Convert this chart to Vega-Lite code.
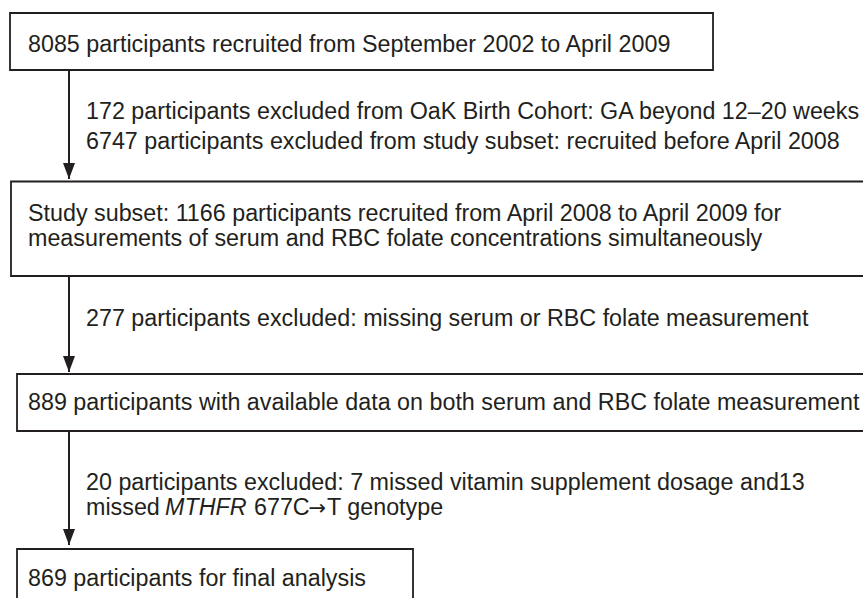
{
  "$schema": "https://vega.github.io/schema/vega-lite/v6.json",
  "width": 863,
  "height": 598,
  "padding": 0,
  "autosize": {"type": "none"},
  "background": "white",
  "config": {"view": {"stroke": null}},
  "datasets": {
    "boxes": [
      {"x1": 10, "x2": 713, "y1": 13, "y2": 70},
      {"x1": 11, "x2": 880, "y1": 181.5, "y2": 276},
      {"x1": 17, "x2": 880, "y1": 374, "y2": 431},
      {"x1": 17, "x2": 413, "y1": 549, "y2": 610}
    ],
    "arrows": [
      {"x": 69, "y1": 70, "y2": 179},
      {"x": 69, "y1": 276, "y2": 372},
      {"x": 69, "y1": 431, "y2": 545}
    ],
    "texts": [
      {"x": 28, "y": 52, "text": "8085 participants recruited from September 2002 to April 2009"},
      {"x": 86, "y": 119, "text": "172 participants excluded from OaK Birth Cohort: GA beyond 12–20 weeks"},
      {"x": 86, "y": 148.5, "text": "6747 participants excluded from study subset: recruited before April 2008"},
      {"x": 28, "y": 221, "text": "Study subset: 1166 participants recruited from April 2008 to April 2009 for"},
      {"x": 28, "y": 246, "text": "measurements of serum and RBC folate concentrations simultaneously"},
      {"x": 86, "y": 326, "text": "277 participants excluded: missing serum or RBC folate measurement"},
      {"x": 28, "y": 410, "text": "889 participants with available data on both serum and RBC folate measurement"},
      {"x": 86, "y": 490, "text": "20 participants excluded: 7 missed vitamin supplement dosage and13"},
      {"x": 86, "y": 515, "text": "missed"},
      {"x": 254, "y": 515, "text": "677C"},
      {"x": 327, "y": 515, "text": "T genotype"},
      {"x": 28, "y": 586, "text": "869 participants for final analysis"}
    ],
    "italic": [
      {"x": 165, "y": 515, "text": "MTHFR"}
    ],
    "symbol": [
      {"x": 308.5, "y": 515, "text": "→"}
    ]
  },
  "layer": [
    {
      "data": {"name": "boxes"},
      "mark": {"type": "rect", "fill": "white", "stroke": "#231f20", "strokeWidth": 1.8, "clip": true},
      "encoding": {
        "x": {"field": "x1", "type": "quantitative", "scale": {"domain": [0, 863], "nice": false, "zero": false}, "axis": null},
        "x2": {"field": "x2"},
        "y": {"field": "y1", "type": "quantitative", "scale": {"domain": [0, 598], "nice": false, "zero": false, "reverse": true}, "axis": null},
        "y2": {"field": "y2"}
      }
    },
    {
      "data": {"name": "arrows"},
      "mark": {"type": "rule", "stroke": "#231f20", "strokeWidth": 2},
      "encoding": {
        "x": {"field": "x", "type": "quantitative"},
        "y": {"field": "y1", "type": "quantitative"},
        "y2": {"field": "y2"}
      }
    },
    {
      "data": {"name": "arrows"},
      "mark": {"type": "point", "shape": "M-0.75,-2L0.75,-2L0,0Z", "size": 256, "filled": true, "fill": "#231f20", "opacity": 1, "strokeWidth": 0},
      "encoding": {
        "x": {"field": "x", "type": "quantitative"},
        "y": {"field": "y2", "type": "quantitative"}
      }
    },
    {
      "data": {"name": "texts"},
      "mark": {"type": "text", "align": "left", "baseline": "alphabetic", "font": "Liberation Sans", "fontSize": 23.3, "fill": "#231f20"},
      "encoding": {
        "x": {"field": "x", "type": "quantitative"},
        "y": {"field": "y", "type": "quantitative"},
        "text": {"field": "text"}
      }
    },
    {
      "data": {"name": "italic"},
      "mark": {"type": "text", "align": "left", "baseline": "alphabetic", "font": "Liberation Sans", "fontStyle": "italic", "fontSize": 23.3, "fill": "#231f20"},
      "encoding": {
        "x": {"field": "x", "type": "quantitative"},
        "y": {"field": "y", "type": "quantitative"},
        "text": {"field": "text"}
      }
    },
    {
      "data": {"name": "symbol"},
      "mark": {"type": "text", "align": "left", "baseline": "alphabetic", "font": "DejaVu Sans", "fontSize": 21, "fill": "#231f20"},
      "encoding": {
        "x": {"field": "x", "type": "quantitative"},
        "y": {"field": "y", "type": "quantitative"},
        "text": {"field": "text"}
      }
    }
  ]
}
